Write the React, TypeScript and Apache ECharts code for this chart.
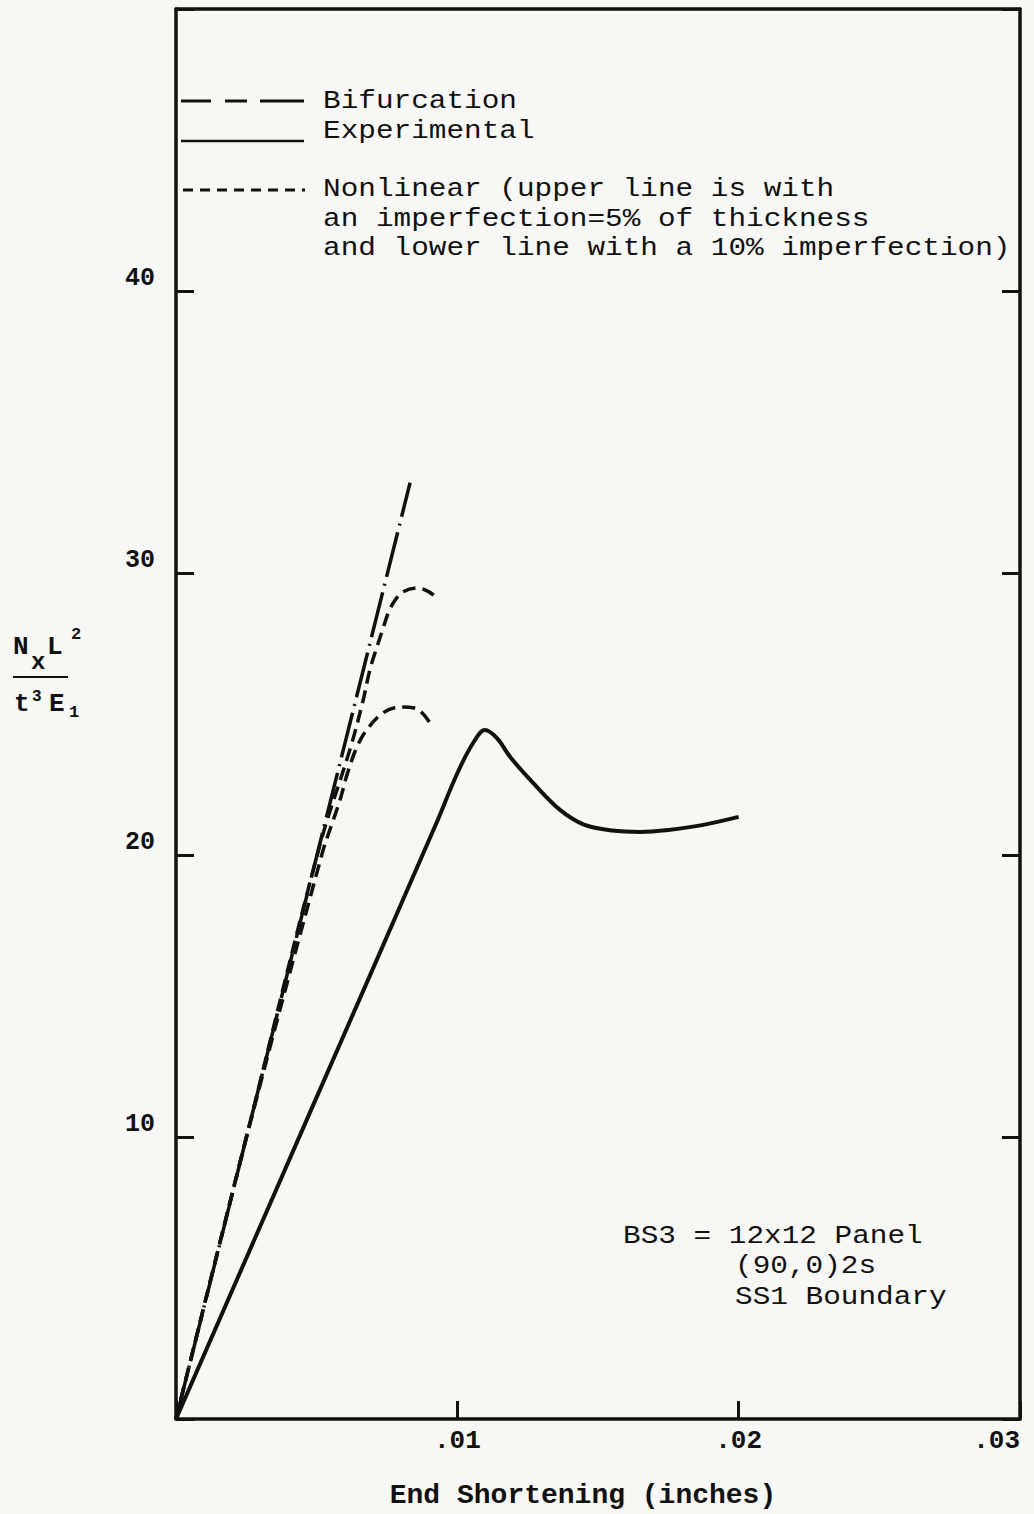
import React, { useEffect, useRef } from "react";
import * as echarts from "echarts";

// ---- data ----
const xTickLabels: Record<number, string> = { 1: ".01", 2: ".02", 3: ".03" };
const yTickLabels: Record<number, string> = { 10: "10", 20: "20", 30: "30", 40: "40" };

const bifurcation: [number, number][] = [
  [0, 0],
  [0.00832, 33.2],
];

const experimental: [number, number][] = [
  [0, 0],
  [0.0046, 10.5],
  [0.0092, 21.0],
  [0.01, 22.9],
  [0.01056, 23.97],
  [0.01098, 24.43],
  [0.0114, 24.15],
  [0.0119, 23.45],
  [0.0127, 22.55],
  [0.01365, 21.6],
  [0.0145, 21.08],
  [0.0155, 20.87],
  [0.0165, 20.82],
  [0.0175, 20.89],
  [0.0187, 21.06],
  [0.02, 21.35],
];

const nonlinear5: [number, number][] = [
  [0, 0],
  [0.0026, 10.4],
  [0.0051, 20.3],
  [0.0062, 23.8],
  [0.00663, 25.4],
  [0.0069, 26.6],
  [0.00715, 27.4],
  [0.00738, 28.1],
  [0.00756, 28.62],
  [0.00779, 29.04],
  [0.00807, 29.33],
  [0.00857, 29.47],
  [0.00896, 29.35],
  [0.00928, 29.11],
];

const nonlinear10: [number, number][] = [
  [0, 0],
  [0.0026, 10.35],
  [0.0052, 20.07],
  [0.00555, 21.13],
  [0.00583, 21.95],
  [0.00608, 22.85],
  [0.00643, 23.83],
  [0.00679, 24.45],
  [0.00736, 25.04],
  [0.00796, 25.25],
  [0.00857, 25.18],
  [0.00903, 24.68],
];

const legendTop = ["Bifurcation", "Experimental"];
const legendNonlinear = [
  "Nonlinear (upper line is with",
  "an imperfection=5% of thickness",
  "and lower line with a 10% imperfection)",
];
const panelNote = ["BS3 = 12x12 Panel", "(90,0)2s", "SS1 Boundary"];
const xAxisTitle = "End Shortening (inches)";

const INK = "#111111";
const MONO = "'Liberation Mono', 'DejaVu Sans Mono', monospace";

export default function App() {
  const ref = useRef<HTMLDivElement>(null);

  useEffect(() => {
    document.body.style.margin = "0";
    if (!ref.current) return;
    const chart = echarts.init(ref.current, undefined, { renderer: "svg" });

    const txt = (
      text: string,
      x: number,
      y: number,
      size: number,
      weight: string = "normal",
      align: string = "left",
      scaleX: number = 1
    ) => ({
      type: "text",
      x,
      y,
      scaleX,
      silent: true,
      style: {
        text,
        fill: INK,
        font: `${weight} ${size}px ${MONO}`,
        textAlign: align,
        textVerticalAlign: "middle",
      },
    });
    const seg = (x1: number, y1: number, x2: number, y2: number, w: number, dash?: number[]) => ({
      type: "line",
      silent: true,
      shape: { x1, y1, x2, y2 },
      style: { stroke: INK, lineWidth: w, lineDash: dash },
    });

    const FS = 26;
    const SX = 1.13;
    const legendTopY = [101, 131];
    const legendNonY = [189, 219, 248];
    const noteX = [623, 735, 735];
    const noteY = [1236, 1266, 1297];

    const graphics: any[] = [
      // legend samples
      seg(181, 101, 211, 101, 3),
      seg(225, 101, 247, 101, 3),
      seg(260, 101, 304, 101, 3),
      seg(181, 141, 304, 141, 2.5),
      seg(183, 190, 305, 190, 3, [10, 7]),
      ...legendTop.map((t, i) => txt(t, 323, legendTopY[i], FS, "normal", "left", SX)),
      ...legendNonlinear.map((t, i) => txt(t, 323, legendNonY[i], FS, "normal", "left", SX)),
      ...panelNote.map((t, i) => txt(t, noteX[i], noteY[i], FS, "normal", "left", SX)),
      txt(xAxisTitle, 583, 1495, 28, "bold", "center"),
      // y axis title: NxL^2 / t^3E1
      txt("N", 13, 647, 26, "bold"),
      txt("x", 31, 662, 24, "bold"),
      txt("L", 47, 647, 26, "bold"),
      txt("2", 71, 634, 17, "bold"),
      seg(13, 677, 68, 677, 2),
      txt("t", 14, 704, 26, "bold"),
      txt("3", 32, 697, 16, "bold"),
      txt("E", 49, 704, 26, "bold"),
      txt("1", 69, 712, 17, "bold"),
    ];

    const axisLine = { show: true, onZero: false, lineStyle: { color: INK, width: 3.5 } };
    const tick = { show: true, inside: true, length: 18, lineStyle: { color: INK, width: 3 } };

    chart.setOption({
      animation: false,
      backgroundColor: "#f7f7f5",
      grid: { left: 176, right: 14, top: 9, bottom: 95, containLabel: false },
      xAxis: [
        {
          type: "value",
          position: "bottom",
          min: 0,
          max: 0.03,
          interval: 0.01,
          axisLine,
          axisTick: tick,
          splitLine: { show: false },
          axisLabel: {
            margin: 9,
            color: INK,
            fontFamily: MONO,
            fontWeight: "bold",
            fontSize: 26,
            alignMaxLabel: "right",
            formatter: (v: number) => xTickLabels[Math.round(v * 100)] || "",
          },
        },
        {
          type: "value",
          position: "top",
          min: 0,
          max: 0.03,
          interval: 0.01,
          axisLine,
          axisTick: { show: false },
          axisLabel: { show: false },
          splitLine: { show: false },
        },
      ],
      yAxis: [
        {
          type: "value",
          position: "left",
          min: 0,
          max: 50,
          interval: 10,
          axisLine,
          axisTick: tick,
          splitLine: { show: false },
          axisLabel: {
            margin: 21,
            color: INK,
            fontFamily: MONO,
            fontWeight: "bold",
            fontSize: 25,
            verticalAlign: "bottom",
            formatter: (v: number) => yTickLabels[Math.round(v)] || "",
          },
        },
        {
          type: "value",
          position: "right",
          min: 0,
          max: 50,
          interval: 10,
          axisLine,
          axisTick: tick,
          axisLabel: { show: false },
          splitLine: { show: false },
        },
      ],
      series: [
        {
          name: "Bifurcation",
          type: "line",
          data: bifurcation,
          showSymbol: false,
          lineStyle: { color: INK, width: 3.5, type: [46, 7, 2, 7] },
        },
        {
          name: "Nonlinear 5%",
          type: "line",
          data: nonlinear5,
          showSymbol: false,
          smooth: 0.35,
          lineStyle: { color: INK, width: 3.5, type: [13, 7] },
        },
        {
          name: "Nonlinear 10%",
          type: "line",
          data: nonlinear10,
          showSymbol: false,
          smooth: 0.35,
          lineStyle: { color: INK, width: 3.5, type: [13, 7] },
        },
        {
          name: "Experimental",
          type: "line",
          data: experimental,
          showSymbol: false,
          smooth: 0.35,
          lineStyle: { color: INK, width: 4 },
        },
      ],
      graphic: graphics,
    });

    return () => chart.dispose();
  }, []);

  return (
    <div
      ref={ref}
      style={{ position: "absolute", left: 0, top: 0, width: 1034, height: 1514 }}
    />
  );
}
